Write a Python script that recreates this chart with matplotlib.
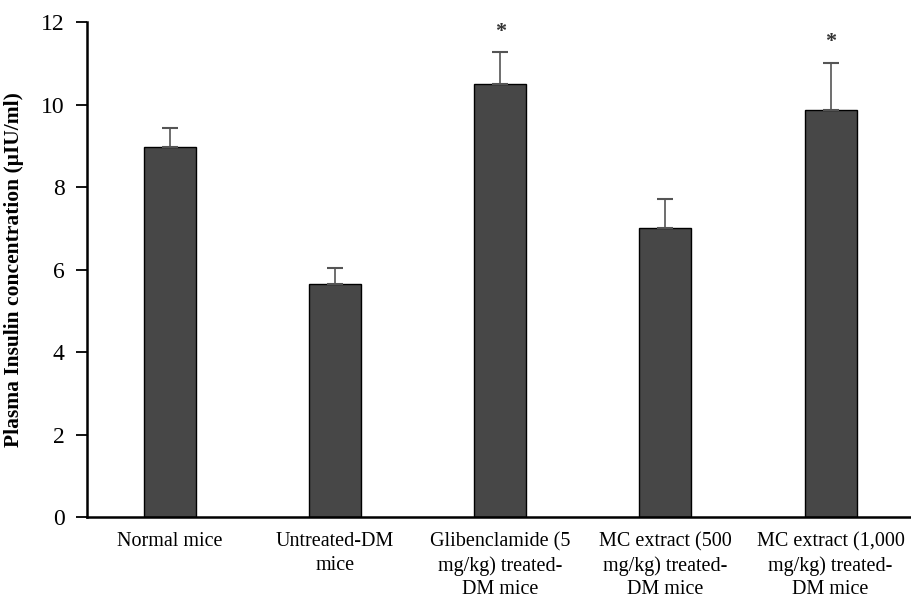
import matplotlib
matplotlib.use("Agg")
import matplotlib.pyplot as plt

# datos
grupos = ['Normal mice', 'Untreated-DM\nmice', 'Glibenclamide (5\nmg/kg) treated-\nDM mice',
          'MC extract (500\nmg/kg) treated-\nDM mice', 'MC extract (1,000\nmg/kg) treated-\nDM mice']
insulina = [8.97, 5.64, 10.51, 7.02, 9.86]
error = [0.46, 0.41, 0.76, 0.70, 1.16]
significativo = ['', '', '*', '', '*']

plt.rcParams['font.family'] = ['Liberation Serif', 'DejaVu Serif']

fig = plt.figure(figsize=(9.12, 6.02), dpi=100)
ax = fig.add_axes([0.0954, 0.1412, 0.906, 0.822])

x = range(len(grupos))
ax.bar(x, insulina, width=0.315, color='#474747', edgecolor='black', linewidth=1.0,
       yerr=[[0] * len(error), error], ecolor='#555555',
       error_kw=dict(elinewidth=1.2, capsize=6, capthick=1.5))

for i, s in enumerate(significativo):
    if s:
        ax.text(i, insulina[i] + error[i] + 0.25, s, ha='center', va='bottom',
                fontsize=16, fontweight='bold', color='#333333')

ax.set_xlim(-0.5, 4.5)
ax.set_ylim(0, 12)
ax.set_yticks(range(0, 13, 2))
ax.tick_params(axis='y', labelsize=17, length=8, width=1.3, direction='out', pad=8)
ax.tick_params(axis='x', length=0, labelsize=14.5, pad=11)
ax.set_xticks(list(x))
ax.set_xticklabels(grupos, linespacing=1.32)

for sp in ['top', 'right']:
    ax.spines[sp].set_visible(False)
ax.spines['left'].set_linewidth(1.8)
ax.spines['bottom'].set_linewidth(1.8)

ax.set_ylabel('Plasma Insulin concentration (\u03bcIU/ml)', fontsize=15.5, fontweight='bold', labelpad=12)

fig.savefig('out.png', dpi=100)
